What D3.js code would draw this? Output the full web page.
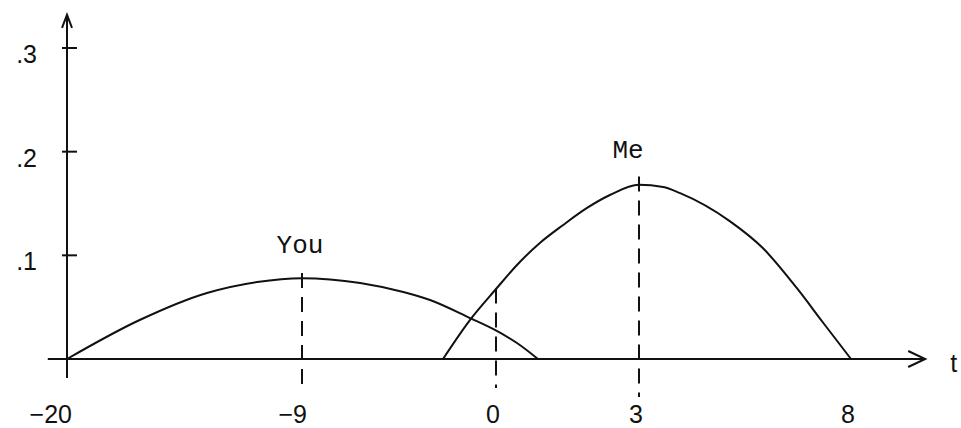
<!DOCTYPE html>
<html>
<head>
<meta charset="utf-8">
<script src="https://cdn.jsdelivr.net/npm/d3@7"></script>
<style>
  body { margin: 0; background: #fff; }
  .lbl { font-family: "Liberation Sans", Arial, sans-serif; font-size: 25px; fill: #111; }
  .name { font-family: "Liberation Mono", "Courier New", monospace; font-size: 26px; fill: #111; }
</style>
</head>
<body>
<script>
// data
var xTicks = [-20, -9, 0, 3, 8];
var xTickLabels = ["\u221220", "\u22129", "0", "3", "8"];
var yTicks = [0.1, 0.2, 0.3];
var yTickLabels = [".1", ".2", ".3"];

// "You" curve (t, density)
var youT = [-20, -16.6, -13.45, -11.1, -9, -6.3, -4.3, -3.06, -1.21, -0.05, 0.44, 0.88];
var youV = [0, 0.0376, 0.0637, 0.0743, 0.078, 0.0733, 0.0646, 0.0569, 0.0395, 0.028, 0.0154, 0];

// "Me" curve
var meT = [-2.46, -1.21, 0, 0.44, 0.92, 1.41, 1.91, 2.39, 3, 3.57, 3.97, 5.14, 5.92, 6.72, 7.33, 8];
var meV = [0, 0.0376, 0.0675, 0.0907, 0.1119, 0.1293, 0.1457, 0.1582, 0.168, 0.166, 0.160, 0.133, 0.107, 0.0685, 0.0357, 0];

// dashed marker lines: t, top value
var markT = [-9, 0, 3];
var markV = [0.083, 0.068, 0.176];
var markBottom = [28, 29, 38]; // px below baseline

var w = 961, h = 428;

var svg = d3.select("body").append("svg")
    .attr("width", w)
    .attr("height", h);

// hand-drawn axis is not uniform, so a polylinear scale
var x = d3.scaleLinear()
    .domain(xTicks)
    .range([67, 302, 496, 639, 851]);

var y = d3.scaleLinear()
    .domain([0, 0.3])
    .range([359, 48]);

var ink = "#111";

// x axis with open arrow
var xEnd = x(9.75);
svg.append("line")
    .attr("x1", x(-20.9)).attr("x2", xEnd)
    .attr("y1", y(0)).attr("y2", y(0))
    .attr("stroke", ink).attr("stroke-width", 2);
svg.append("path")
    .attr("d", "M" + (xEnd - 17) + "," + (y(0) - 8) + "L" + xEnd + "," + y(0) + "L" + (xEnd - 17) + "," + (y(0) + 8))
    .attr("fill", "none").attr("stroke", ink).attr("stroke-width", 2);
svg.append("text")
    .attr("class", "lbl")
    .attr("x", xEnd + 25).attr("y", y(0) + 13)
    .text("t");

// y axis with arrow
var yTop = y(0.332);
svg.append("line")
    .attr("x1", x(-20)).attr("x2", x(-20))
    .attr("y1", yTop).attr("y2", y(0) + 19)
    .attr("stroke", ink).attr("stroke-width", 2);
svg.append("path")
    .attr("d", "M" + (x(-20) - 5) + "," + (yTop + 13) + "L" + x(-20) + "," + yTop + "L" + (x(-20) + 5) + "," + (yTop + 13))
    .attr("fill", "none").attr("stroke", ink).attr("stroke-width", 2);

var yt = svg.append("g").selectAll("g")
    .data(yTicks)
    .enter().append("g")
    .attr("transform", function(d) { return "translate(" + x(-20) + "," + y(d) + ")"; });
yt.append("line")
    .attr("x1", -5).attr("x2", 10)
    .attr("stroke", ink).attr("stroke-width", 2);
yt.append("text")
    .attr("class", "lbl")
    .attr("x", -30).attr("y", 15)
    .attr("text-anchor", "end")
    .text(function(d, i) { return yTickLabels[i]; });

// x tick labels (negatives hang left of the tick)
svg.append("g").selectAll("text")
    .data(xTicks)
    .enter().append("text")
    .attr("class", "lbl")
    .attr("x", function(d) { return d < 0 ? x(d) + 5 : x(d) - 3; })
    .attr("y", 423)
    .attr("text-anchor", function(d) { return d < 0 ? "end" : "middle"; })
    .text(function(d, i) { return xTickLabels[i]; });

// dashed markers
svg.append("g").selectAll("line")
    .data(markT)
    .enter().append("line")
    .attr("x1", function(d) { return x(d); })
    .attr("x2", function(d) { return x(d); })
    .attr("y1", function(d, i) { return y(markV[i]); })
    .attr("y2", function(d, i) { return y(0) + markBottom[i]; })
    .attr("stroke", ink).attr("stroke-width", 2)
    .attr("stroke-dasharray", "15,9");

// curves
var line = d3.line()
    .x(function(d) { return x(d[0]); })
    .y(function(d) { return y(d[1]); })
    .curve(d3.curveMonotoneX);

svg.append("path")
    .datum(d3.zip(youT, youV))
    .attr("d", line)
    .attr("fill", "none").attr("stroke", ink).attr("stroke-width", 2);

svg.append("path")
    .datum(d3.zip(meT, meV))
    .attr("d", line)
    .attr("fill", "none").attr("stroke", ink).attr("stroke-width", 2);

// names
svg.append("text")
    .attr("class", "name")
    .attr("x", x(-9) - 2).attr("y", 253)
    .attr("text-anchor", "middle")
    .text("You");

svg.append("text")
    .attr("class", "name")
    .attr("x", x(3) - 11).attr("y", 158)
    .attr("text-anchor", "middle")
    .text("Me");
</script>
</body>
</html>
